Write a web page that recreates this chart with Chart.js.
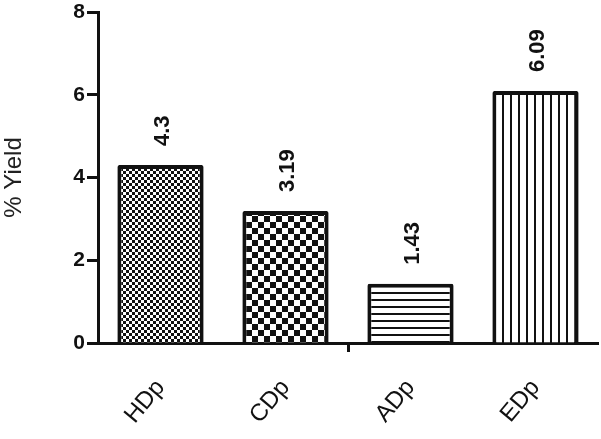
<!DOCTYPE html>
<html>
<head>
<meta charset="utf-8">
<script src="https://cdn.jsdelivr.net/npm/chart.js@4/dist/chart.umd.min.js"></script>
<style>
  html, body { margin: 0; padding: 0; background: #fff; }
  #wrap { width: 601px; height: 439px; }
</style>
</head>
<body>
<div id="wrap"><canvas id="yieldChart" width="601" height="439"></canvas></div>
<script>
// Data
const categories = ['HDp', 'CDp', 'ADp', 'EDp'];
const yieldValues = [4.3, 3.19, 1.43, 6.09];
const valueLabels = ['4.3', '3.19', '1.43', '6.09'];
const yMin = 0;
const yMax = 8;
const yStep = 2;

const FONT = '"Liberation Sans", Arial, sans-serif';

// Fill patterns
function makePattern(w, h, draw) {
    const c = document.createElement('canvas');
    c.width = w;
    c.height = h;
    const g = c.getContext('2d');
    g.fillStyle = '#fff';
    g.fillRect(0, 0, w, h);
    g.fillStyle = '#111';
    draw(g);
    return g.createPattern(c, 'repeat');
}

const fineChecker = makePattern(6, 6, g => {
    g.fillRect(0, 0, 3, 3);
    g.fillRect(3, 3, 3, 3);
});
const bigChecker = makePattern(12, 12, g => {
    g.fillRect(0, 0, 6, 6);
    g.fillRect(6, 6, 6, 6);
});
const hLines = makePattern(8, 7, g => {
    g.fillRect(0, 5, 8, 2);
});
const vLines = makePattern(8, 8, g => {
    g.fillRect(6, 0, 2, 8);
});

// Value labels above bars, rotated
const valueLabelPlugin = {
    id: 'valueLabels',
    afterDatasetsDraw(chart) {
        const ctx = chart.ctx;
        const meta = chart.getDatasetMeta(0);
        ctx.save();
        ctx.font = 'bold 22px ' + FONT;
        ctx.fillStyle = '#111';
        ctx.textAlign = 'left';
        ctx.textBaseline = 'middle';
        meta.data.forEach((bar, i) => {
            ctx.save();
            ctx.translate(bar.x + 2, bar.y - 19);
            ctx.rotate(-Math.PI / 2);
            ctx.fillText(valueLabels[i], 0, 0);
            ctx.restore();
        });
        ctx.restore();
    }
};

new Chart(document.getElementById('yieldChart').getContext('2d'), {
    type: 'bar',
    data: {
        labels: categories,
        datasets: [{
            data: yieldValues,
            backgroundColor: [fineChecker, bigChecker, hLines, vLines],
            borderColor: '#111',
            borderWidth: 4,
            borderRadius: 2,
            borderSkipped: 'start',
            barPercentage: 0.69,
            categoryPercentage: 1
        }]
    },
    options: {
        responsive: false,
        animation: false,
        layout: { padding: { top: 12, right: 3, left: 0, bottom: 0 } },
        plugins: {
            legend: { display: false },
            tooltip: { enabled: false }
        },
        scales: {
            x: {
                offset: true,
                afterFit: scale => { scale.height = 96; },
                border: { color: '#111', width: 3 },
                grid: {
                    offset: true,
                    drawOnChartArea: false,
                    drawTicks: true,
                    tickLength: 9,
                    tickWidth: 3,
                    tickColor: ctx => ctx.index === 2 ? '#111' : 'rgba(0,0,0,0)'
                },
                ticks: {
                    color: '#111',
                    font: { family: FONT, size: 24 },
                    minRotation: 50,
                    maxRotation: 50,
                    padding: 22
                }
            },
            y: {
                min: yMin,
                max: yMax,
                afterFit: scale => {
                    scale.width = 98;
                    scale.paddingTop = 0;
                    scale.paddingBottom = 0;
                },
                border: { color: '#111', width: 3 },
                grid: {
                    drawOnChartArea: false,
                    tickLength: 11,
                    tickWidth: 3,
                    tickColor: '#111'
                },
                ticks: {
                    stepSize: yStep,
                    color: '#111',
                    padding: 2,
                    font: { family: FONT, size: 21, weight: 'bold' }
                },
                title: {
                    display: true,
                    text: '% Yield',
                    color: '#222',
                    padding: { top: 0, bottom: 0 },
                    font: { family: FONT, size: 24 }
                }
            }
        }
    },
    plugins: [valueLabelPlugin]
});
</script>
</body>
</html>
